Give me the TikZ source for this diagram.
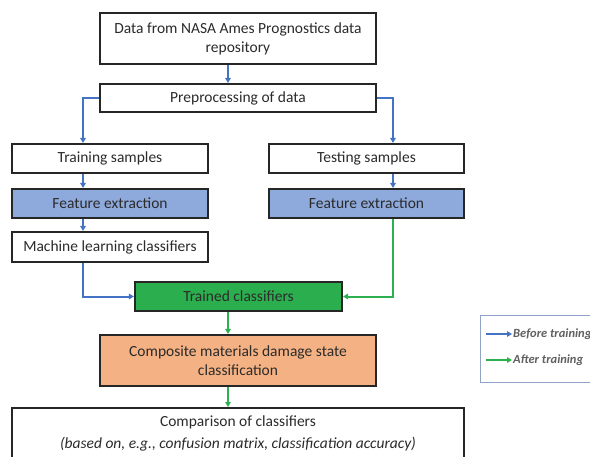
\documentclass[tikz,border=0pt]{standalone}
\usepackage{fontspec}
\setmainfont{Carlito}
\usetikzlibrary{arrows.meta}
\definecolor{bord}{HTML}{262626}
\definecolor{txt}{HTML}{2B2B2B}
\definecolor{feblue}{HTML}{8EA9DB}
\definecolor{trgreen}{HTML}{2BAE4E}
\definecolor{comporange}{HTML}{F4B183}
\definecolor{arrblue}{HTML}{4472C4}
\definecolor{arrgreen}{HTML}{2DB050}
\definecolor{legbord}{HTML}{8FA3C8}
\tikzset{
  box/.style={draw=bord, line width=2.1pt, fill=white, inner sep=0pt, align=center,
    text=txt, font=\fontsize{15.5}{19}\selectfont},
  blueline/.style={draw=arrblue, line width=2pt, -{Triangle[length=5pt,width=5.5pt]}},
  greenline/.style={draw=arrgreen, line width=2pt, -{Triangle[length=5pt,width=5.5pt]}},
  legtext/.style={text=txt!75, font=\fontsize{12.5}{14}\selectfont\itshape\bfseries, anchor=west, inner sep=1pt}
}
\begin{document}
\begin{tikzpicture}[x=1pt,y=-1pt]
\useasboundingbox (0,0) rectangle (590,456);
\clip (0,0) rectangle (590,456);
\fill[white] (0,0) rectangle (590,456);
\node[box, minimum width=276pt, minimum height=51pt] (top) at (238,38.5)
  {Data from NASA Ames Prognostics data\\repository};
\node[box, minimum width=276pt, minimum height=28pt] (pre) at (238,98) {Preprocessing of data};
\node[box, minimum width=196pt, minimum height=29pt] (train) at (110,158.5) {Training samples};
\node[box, minimum width=195pt, minimum height=29pt] (test) at (366.5,158.5) {Testing samples};
\node[box, fill=feblue, minimum width=196pt, minimum height=29pt] (feL) at (110,203.5) {Feature extraction};
\node[box, fill=feblue, minimum width=195pt, minimum height=29pt] (feR) at (366.5,203.5) {Feature extraction};
\node[box, minimum width=196pt, minimum height=30pt] (ml) at (110,247) {Machine learning classifiers};
\node[box, fill=trgreen, minimum width=207pt, minimum height=29pt] (trained) at (238.5,296.5) {Trained classifiers};
\node[box, fill=comporange, minimum width=276pt, minimum height=51pt] (comp) at (238,360.5)
  {Composite materials damage state\\classification};
\node[box, minimum width=452pt, minimum height=60pt, anchor=north] (cmp) at (238,407) {};
\node[text=txt, font=\fontsize{15.5}{19}\selectfont, inner sep=0pt] (cmpA) at (238,422) {Comparison of classifiers};
\node[text=txt, font=\fontsize{15.5}{19}\selectfont\itshape, inner sep=0pt] (cmpB) at (238,444)
  {(based on, e.g., confusion matrix, classification accuracy)};
% connectors
\draw[blueline] ([xshift=-10pt]top.south) -- ([xshift=-10pt]pre.north);
\draw[blueline] (pre.west) -| ([xshift=-27pt]train.north);
\draw[blueline] (pre.east) -| ([xshift=26.5pt]test.north);
\draw[blueline] ([xshift=-27pt]train.south) -- ([xshift=-27pt]feL.north);
\draw[blueline] ([xshift=26.5pt]test.south) -- ([xshift=26.5pt]feR.north);
\draw[blueline] ([xshift=-27pt]feL.south) -- ([xshift=-27pt]ml.north);
\draw[blueline] ([xshift=-27pt]ml.south) |- (trained.west);
\draw[greenline] ([xshift=26.5pt]feR.south) |- (trained.east);
\draw[greenline] ([xshift=-10.5pt]trained.south) -- ([xshift=-10pt]comp.north);
\draw[greenline] ([xshift=-10pt]comp.south) -- ([xshift=-10pt]cmp.north);
% legend
\node[draw=legbord, line width=1pt, minimum width=130pt, minimum height=67pt, anchor=north west, inner sep=0pt] (leg) at (480,315) {};
\coordinate (b1) at (486,334);
\coordinate (b2) at (512,334);
\coordinate (g1) at (486,360);
\coordinate (g2) at (512,360);
\draw[blueline] (b1) -- (b2);
\draw[greenline] (g1) -- (g2);
\node[legtext] (lb) at (b2) {Before training};
\node[legtext] (lg) at (g2) {After training};
\end{tikzpicture}
\end{document}
